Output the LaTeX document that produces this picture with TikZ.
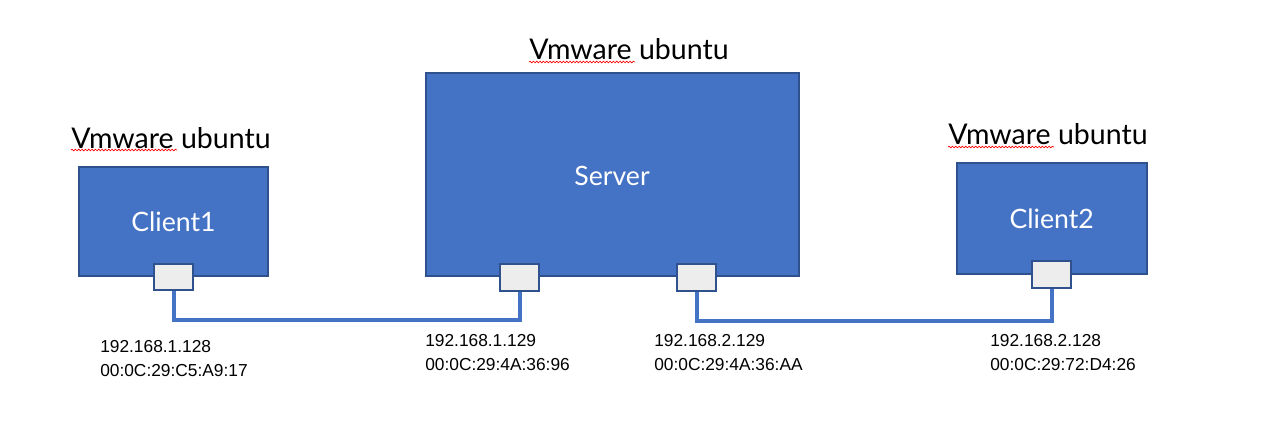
\documentclass[tikz,border=0pt]{standalone}
\usepackage{fontspec}
\setmainfont{Liberation Sans}
\newfontfamily\titlefont{Lato}
\usetikzlibrary{positioning,decorations.pathmorphing}
\definecolor{vmblue}{HTML}{4472C4}
\definecolor{vmedge}{HTML}{2F528F}
\definecolor{portgray}{HTML}{EDEDED}
\begin{document}
\begin{tikzpicture}[x=0.75pt,y=-0.75pt,
    host/.style={draw=vmedge,line width=1.5pt,fill=vmblue,text=white,inner sep=0pt,
                 font=\titlefont\fontsize{20}{24}\selectfont},
    port/.style={draw=vmedge,line width=1.5pt,fill=portgray,minimum width=38.5pt/1.3333,
                 minimum height=26.5pt/1.3333,inner sep=0pt},
    link/.style={vmblue,line width=3pt},
    vmtitle/.style={font=\titlefont\fontsize{21.4}{24}\selectfont,inner sep=0pt,anchor=base},
    addr/.style={font=\fontsize{13}{18}\selectfont,align=left,anchor=base west,inner sep=0pt},
    typo/.style={red,line width=0.5pt,decorate,decoration={snake,amplitude=0.6pt,segment length=2.5pt}}]
    \useasboundingbox (0,0) rectangle (1266,424);

    % machines
    \node[host,minimum width=189pt*0.75,minimum height=109pt*0.75] (c1)  at (173.5,221.5) {Client1};
    \node[host,minimum width=373.5pt*0.75,minimum height=203.5pt*0.75] (srv) at (612.5,174.5) {};
    \node[host,minimum width=190pt*0.75,minimum height=110pt*0.75] (c2)  at (1051.7,218.5) {Client2};
    \node[text=white,font=\titlefont\fontsize{20}{24}\selectfont] (srvname) at (612,176) {Server};

    % titles
    \node[vmtitle] (t1) at (171,148) {Vmware ubuntu};
    \node[vmtitle] (t2) at (629,60) {Vmware ubuntu};
    \node[vmtitle] (t3) at (1048,145) {Vmware ubuntu};
    \draw[typo] ([yshift=-1.5pt]t1.base west) -- ++(106,0);
    \draw[typo] ([yshift=-1.5pt]t2.base west) -- ++(106,0);
    \draw[typo] ([yshift=-1.5pt]t3.base west) -- ++(106,0);

    % ports
    \node[port] (p1) at (c1.south) {};
    \node[port] (p2) at ([xshift=-93pt*0.75]srv.south) {};
    \node[port] (p3) at ([xshift=84pt*0.75]srv.south) {};
    \node[port] (p4) at (c2.south) {};

    % wires
    \draw[link] (p1.south) -- ++(0,29) -| (p2.south);
    \draw[link] (p3.south) -- ++(0,29) -| (p4.south);

    % addresses
    \node[addr] (a1) at (100,376) {192.168.1.128\\00:0C:29:C5:A9:17};
    \node[addr] (a2) at (425,370) {192.168.1.129\\00:0C:29:4A:36:96};
    \node[addr] (a3) at (654,370) {192.168.2.129\\00:0C:29:4A:36:AA};
    \node[addr] (a4) at (990,370) {192.168.2.128\\00:0C:29:72:D4:26};
\end{tikzpicture}
\end{document}
